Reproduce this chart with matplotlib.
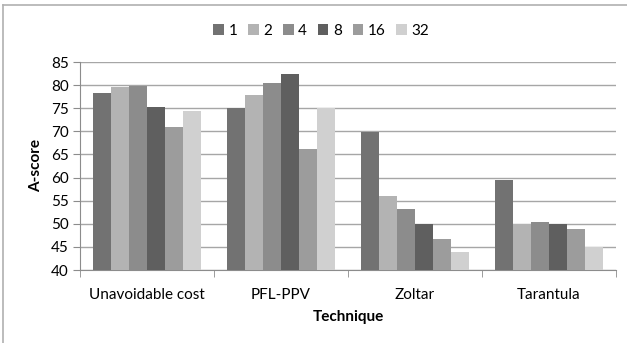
import numpy as np
import matplotlib.pyplot as plt
from matplotlib.lines import Line2D

techniques = ['Unavoidable cost', 'PFL-PPV', 'Zoltar', 'Tarantula']
series_names = ['1', '2', '4', '8', '16', '32']
scores = {
    '1': [78.3, 75.0, 69.8, 59.5],
    '2': [79.5, 77.9, 56.1, 50.0],
    '4': [79.7, 80.5, 53.2, 50.3],
    '8': [75.2, 82.3, 49.9, 49.9],
    '16': [71.0, 66.2, 46.7, 48.9],
    '32': [74.4, 75.0, 44.0, 45.0],
}
colors = ['#727272', '#b3b3b3', '#8c8c8c', '#5f5f5f', '#9c9c9c', '#d0d0d0']

plt.rcParams['font.family'] = ['Lato', 'DejaVu Sans']

W, H = 627, 343
fig = plt.figure(figsize=(W / 100, H / 100), dpi=100)
ax = fig.add_axes([80 / W, 1 - 270 / H, (616 - 80) / W, (270 - 62) / H])

x = np.arange(len(techniques))
group_w = 0.8
bw = group_w / len(series_names)
for i, name in enumerate(series_names):
    offs = -group_w / 2 + bw * (i + 0.5)
    ax.bar(x + offs, np.array(scores[name]) - 40, bw, bottom=40,
           color=colors[i], label=name, zorder=3)

ax.set_xlim(-0.5, len(techniques) - 0.5)
ax.set_ylim(40, 85)
ax.set_yticks(range(40, 86, 5))
ax.tick_params(axis='y', labelsize=11, length=5, color='#8c8c8c', pad=3)
ax.set_xticks(x)
ax.set_xticklabels(techniques, fontsize=11)
ax.tick_params(axis='x', length=0, pad=13)
# category separators below the axis
ax.set_xticks(np.arange(-0.5, len(techniques)), minor=True)
ax.tick_params(axis='x', which='minor', length=5, color='#8c8c8c')
ax.grid(axis='y', color='#a6a6a6', linewidth=1, zorder=0)
for s in ['top', 'right']:
    ax.spines[s].set_visible(False)
for s in ['left', 'bottom']:
    ax.spines[s].set_color('#8c8c8c')

ax.set_ylabel('A-score', fontsize=11, fontweight='bold', labelpad=6)
ax.set_xlabel('Technique', fontsize=11, fontweight='bold', labelpad=6)

ax.legend(loc='upper center', bbox_to_anchor=(0.45, 1.25), ncol=6, frameon=False,
          fontsize=11, handlelength=0.7, handleheight=0.7, handletextpad=0.3,
          columnspacing=0.7)

# outer chart frame (only top and left edges visible in the crop)
fig.add_artist(Line2D([3 / W, 1], [1 - 5 / H, 1 - 5 / H], transform=fig.transFigure,
                      color='#b0b0b0', linewidth=1.2))
fig.add_artist(Line2D([3 / W, 3 / W], [0, 1 - 5 / H], transform=fig.transFigure,
                      color='#b0b0b0', linewidth=1.2))

fig.savefig('out.png', dpi=100)
